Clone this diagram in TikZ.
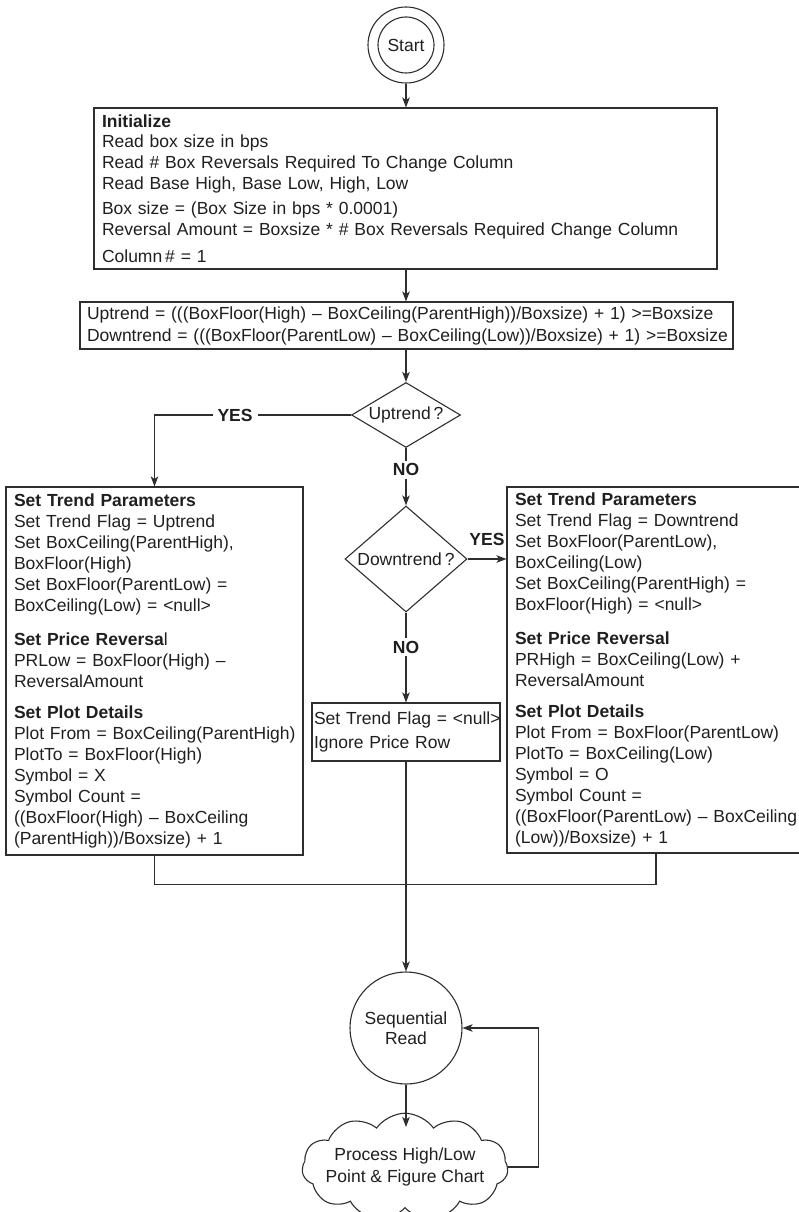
\documentclass[tikz,border=0pt]{standalone}
\usepackage{fontspec}
\setmainfont{Liberation Sans}
\usetikzlibrary{shapes.geometric,shapes.symbols,arrows.meta}
\definecolor{ln}{gray}{0.18}
\definecolor{txt}{gray}{0.12}
\begin{document}
\begin{tikzpicture}[x=1pt,y=-1pt,
  base/.style={draw=ln, line width=1.1pt, text=txt, font=\fontsize{17.5}{21}\selectfont},
  textbox/.style={base, rectangle, align=left, inner xsep=8pt, inner ysep=0pt},
  arr/.style={-{Stealth[length=10pt,width=7.5pt,inset=2.5pt]}, draw=ln, line width=1.1pt},
  plain/.style={draw=ln, line width=1.1pt},
  lbl/.style={font=\bfseries\fontsize{17.5}{21}\selectfont, text=txt, fill=white, inner xsep=5pt, inner ysep=3pt},
  decision/.style={base, diamond, inner sep=0pt, align=center}
]
\useasboundingbox (0,0) rectangle (799,1212);

% start
\node[base, circle, minimum size=76pt, inner sep=0pt] (startout) at (406,45) {};
\node[base, circle, minimum size=56pt, inner sep=0pt] (start) at (406,45) {Start};

% initialize
\node[textbox, minimum width=623pt, minimum height=161pt, text width=607pt,
      font=\fontsize{17.5}{20.8}\selectfont] (init) at (405.5,188.5)
 {\textbf{Initialize}\\
  Read box size in bps\\
  Read \# Box Reversals Required To Change Column\\
  Read Base High, Base Low, High, Low\\[4.3pt]
  Box size = (Box Size in bps * 0.0001)\\
  \mbox{Reversal Amount = Boxsize * \# Box Reversals Required Change Column}\\[6.3pt]
  Column\,\# = 1};

% trend formulas
\node[textbox, minimum width=653pt, minimum height=47pt, text width=639pt, inner xsep=7pt,
      font=\fontsize{17.5}{22}\selectfont] (upbox) at (406.5,325.5)
 {\mbox{Uptrend = (((BoxFloor(High) – BoxCeiling(ParentHigh))/Boxsize) + 1) >=Boxsize}\\
  \mbox{Downtrend = (((BoxFloor(ParentLow) – BoxCeiling(Low))/Boxsize) + 1) >=Boxsize}};

% decisions
\node[decision, aspect=1.68, minimum width=109pt, minimum height=65pt] (updia) at (406,415) {Uptrend\,?};
\node[decision, aspect=1.15, minimum width=122pt, minimum height=106pt] (downdia) at (406,559) {Downtrend\,?};

% left box
\node[textbox, minimum width=297pt, minimum height=368pt, text width=281pt] (leftbox) at (154.5,671)
 {\textbf{Set Trend Parameters}\\
  Set Trend Flag = Uptrend\\
  Set BoxCeiling(ParentHigh),\\
  BoxFloor(High)\\
  Set BoxFloor(ParentLow) =\\
  BoxCeiling(Low) = <null>\\[13pt]
  \textbf{Set Price Reversa}l\\
  PRLow = BoxFloor(High) –\\
  ReversalAmount\\[10pt]
  \textbf{Set Plot Details}\\
  \mbox{Plot From = BoxCeiling(ParentHigh)}\\
  PlotTo = BoxFloor(High)\\
  Symbol = X\\
  Symbol Count =\\
  \mbox{((BoxFloor(High) – BoxCeiling}\\
  \mbox{(ParentHigh))/Boxsize) + 1}};

% right box
\node[textbox, minimum width=298pt, minimum height=366pt, text width=282pt] (rightbox) at (656,670)
 {\textbf{Set Trend Parameters}\\
  Set Trend Flag = Downtrend\\
  Set BoxFloor(ParentLow),\\
  BoxCeiling(Low)\\
  Set BoxCeiling(ParentHigh) =\\
  BoxFloor(High) = <null>\\[13pt]
  \textbf{Set Price Reversal}\\
  PRHigh = BoxCeiling(Low) +\\
  ReversalAmount\\[10pt]
  \textbf{Set Plot Details}\\
  \mbox{Plot From = BoxFloor(ParentLow)}\\
  PlotTo = BoxCeiling(Low)\\
  Symbol = O\\
  Symbol Count =\\
  \mbox{((BoxFloor(ParentLow) – BoxCeiling}\\
  \mbox{(Low))/Boxsize) + 1}};

% middle box
\node[textbox, minimum width=188pt, minimum height=58pt, text width=184pt, inner xsep=2pt,
      font=\fontsize{17.5}{24}\selectfont] (midbox) at (406,732)
 {\mbox{Set Trend Flag = <null>}\\
  Ignore Price Row};

% sequential read
\node[base, circle, minimum size=112pt, inner sep=0pt, align=center,
      font=\fontsize{17.5}{20}\selectfont] (seq) at (406,1028) {Sequential\\Read};

% cloud
\node[base, cloud, cloud puffs=11, cloud puff arc=110, aspect=2.2, minimum width=206pt,
      minimum height=102pt, inner xsep=-14pt, inner ysep=-12pt, align=center,
      font=\fontsize{17.5}{22}\selectfont] (cloud) at (405,1167)
 {Process High/Low\\Point \& Figure Chart};
\coordinate (cloudtop) at (406,1127);

% connectors
\draw[arr] (startout.south) -- (startout.south |- init.north);
\draw[arr] (init.south -| startout.south) -- (startout.south |- upbox.north);
\draw[arr] (upbox.south -| updia.north) -- (updia.north);
\draw[arr] (updia.west) -| node[lbl, pos=0.295] {YES} (leftbox.north);
\draw[arr] (updia.south) -- node[lbl, pos=0.38] {NO} (downdia.north);
\draw[arr] (downdia.east) -- node[above=13pt, font=\bfseries\fontsize{17.5}{21}\selectfont, text=txt, inner sep=0pt] {YES} (downdia.east -| rightbox.west);
\draw[arr] (downdia.south) -- node[lbl, pos=0.385] {NO} (midbox.north);
\draw[arr] (midbox.south) -- (seq.north);
\draw[plain] (leftbox.south) -- ++(0,29) -| (rightbox.south);
\draw[arr] (seq.south) -- (cloudtop);
\draw[arr] (cloud.east) -- ++(30,0) |- (seq.east);
\end{tikzpicture}
\end{document}
